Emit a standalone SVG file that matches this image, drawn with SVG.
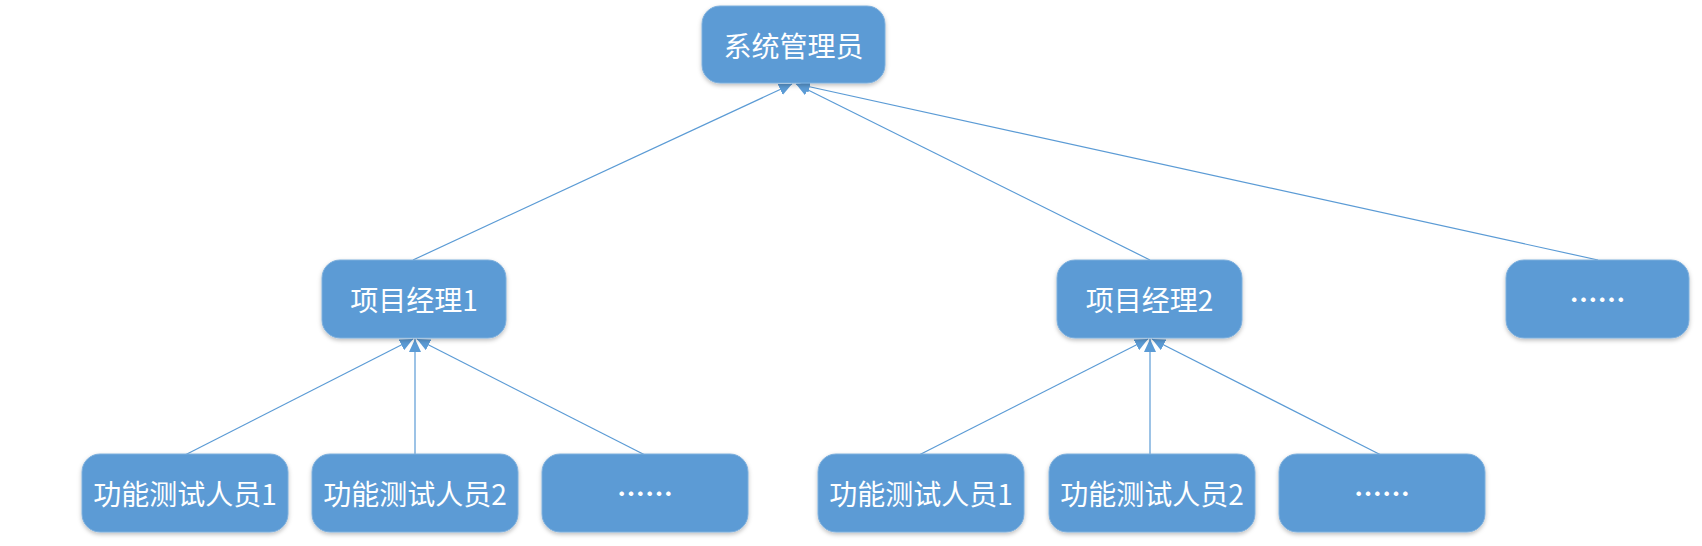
<svg xmlns="http://www.w3.org/2000/svg" width="1702" height="546" viewBox="0 0 1702 546">
<style>
.box{fill:#5b9bd5;stroke:#7fb0dd;stroke-width:1}
.lbl{fill:#ffffff;font-family:"Microsoft YaHei","Noto Sans CJK SC",sans-serif;font-size:28px;text-anchor:middle;dominant-baseline:central}
.dots{font-weight:bold}
.conn line{stroke:#5b9bd5;stroke-width:1.2;marker-end:url(#arr)}
</style>
<defs>
<filter id="sh" x="-10%" y="-10%" width="120%" height="130%">
<feDropShadow dx="0" dy="2" stdDeviation="2" flood-color="#000" flood-opacity="0.25"/>
</filter>
<marker id="arr" markerUnits="userSpaceOnUse" markerWidth="14" markerHeight="12" refX="13" refY="6" orient="auto">
<path d="M0,0 L13,6 L0,12 z" fill="#5b9bd5"/>
</marker>
</defs>
<rect width="1702" height="546" fill="#ffffff"/>
<g id="connectors" class="conn">
<line x1="413" y1="260" x2="792" y2="84"/>
<line x1="1150" y1="260" x2="796" y2="84"/>
<line x1="1598" y1="260" x2="797" y2="84"/>
<line x1="185" y1="455" x2="413" y2="339"/>
<line x1="415" y1="455" x2="415" y2="339"/>
<line x1="645" y1="455" x2="417" y2="339"/>
<line x1="919" y1="455" x2="1148" y2="339"/>
<line x1="1150" y1="455" x2="1150" y2="339"/>
<line x1="1381" y1="455" x2="1152" y2="339"/>
</g>
<g id="admin"><rect class="box" filter="url(#sh)" x="702" y="6" width="183" height="77" rx="18"/><text class="lbl" x="793.5" y="44.5">系统管理员</text></g>
<g id="pm1"><rect class="box" filter="url(#sh)" x="322" y="260" width="184" height="78" rx="18"/><text class="lbl" x="414" y="299">项目经理1</text></g>
<g id="pm2"><rect class="box" filter="url(#sh)" x="1057" y="260" width="185" height="78" rx="18"/><text class="lbl" x="1149.5" y="299">项目经理2</text></g>
<g id="pm-more"><rect class="box" filter="url(#sh)" x="1506" y="260" width="183" height="78" rx="18"/><text class="lbl dots" x="1597.5" y="299">……</text></g>
<g id="t1-1"><rect class="box" filter="url(#sh)" x="82" y="454" width="206" height="78" rx="18"/><text class="lbl" x="185" y="493">功能测试人员1</text></g>
<g id="t1-2"><rect class="box" filter="url(#sh)" x="312" y="454" width="206" height="78" rx="18"/><text class="lbl" x="415" y="493">功能测试人员2</text></g>
<g id="t1-more"><rect class="box" filter="url(#sh)" x="542" y="454" width="206" height="78" rx="18"/><text class="lbl dots" x="645" y="493">……</text></g>
<g id="t2-1"><rect class="box" filter="url(#sh)" x="818" y="454" width="206" height="78" rx="18"/><text class="lbl" x="921" y="493">功能测试人员1</text></g>
<g id="t2-2"><rect class="box" filter="url(#sh)" x="1049" y="454" width="206" height="78" rx="18"/><text class="lbl" x="1152" y="493">功能测试人员2</text></g>
<g id="t2-more"><rect class="box" filter="url(#sh)" x="1279" y="454" width="206" height="78" rx="18"/><text class="lbl dots" x="1382" y="493">……</text></g>
</svg>
